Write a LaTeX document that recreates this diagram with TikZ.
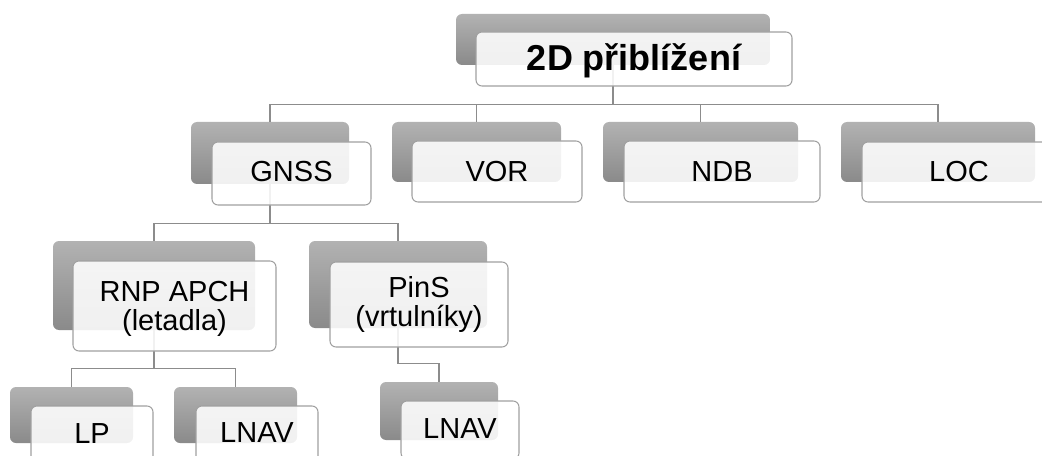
\documentclass[tikz,border=0pt]{standalone}
\usepackage{fontspec}
\setmainfont{Liberation Sans}
\definecolor{backtop}{RGB}{178,178,178}
\definecolor{backbot}{RGB}{138,138,138}
\definecolor{frontline}{RGB}{160,160,160}
\definecolor{connc}{RGB}{140,140,140}
\tikzset{
  backbox/.style={rounded corners=4.5pt, top color=backtop, bottom color=backbot, draw=none, inner sep=0pt},
  frontbox/.style={rounded corners=4.5pt, draw=frontline, line width=0.8pt, fill=white, fill opacity=0.88, inner sep=0pt},
  conn/.style={draw=connc, line width=1.1pt},
  lbl/.style={font=\fontsize{21.75}{21.75}\selectfont, align=center, inner sep=0pt},
  toplbl/.style={font=\fontsize{27}{27}\selectfont\bfseries, inner sep=0pt},
}
% name, back x1 y1 x2 y2 (px)
\newcommand\backpiece[5]{%
  \node[backbox, minimum width={(#4-#2)*0.75pt}, minimum height={(#5-#3)*0.75pt}] (b-#1) at ({(#2+#4)/2},{(#3+#5)/2}) {};}
\newcommand\frontpiece[5]{%
  \node[frontbox, minimum width={(#4-#2)*0.75pt}, minimum height={(#5-#3)*0.75pt}] (f-#1) at ({(#2+#4)/2},{(#3+#5)/2}) {};}
\begin{document}
\begin{tikzpicture}[x=0.75pt,y=-0.75pt]
\useasboundingbox (0,0) rectangle (1042,456);
\clip (0,0) rectangle (1042,456);
% back boxes
\backpiece{top}{456}{14}{770}{65}
\backpiece{gnss}{191}{122}{349}{184}
\backpiece{vor}{392}{122}{561}{182}
\backpiece{ndb}{603}{122}{798}{182}
\backpiece{loc}{841}{122}{1035}{182}
\backpiece{rnp}{53}{241}{255}{330}
\backpiece{pins}{309}{241}{487}{328}
\backpiece{lp}{10}{387}{133}{443}
\backpiece{lnava}{174}{387}{297}{443}
\backpiece{lnavb}{380}{382}{498}{440}
% connectors
\draw[conn] (b-top.south) -- ++(0,39) -| (b-gnss.north);
\draw[conn] (b-top.south) -- ++(0,39) -| (b-vor.north);
\draw[conn] (b-top.south) -- ++(0,39) -| (b-ndb.north);
\draw[conn] (b-top.south) -- ++(0,39) -| (b-loc.north);
\draw[conn] (b-gnss.south) -- ++(0,39) -| (b-rnp.north);
\draw[conn] (b-gnss.south) -- ++(0,39) -| (b-pins.north);
\draw[conn] (b-rnp.south) -- ++(0,38) -| (b-lp.north);
\draw[conn] (b-rnp.south) -- ++(0,38) -| (b-lnava.north);
\draw[conn] (b-pins.south) -- ++(0,35) -| (b-lnavb.north);
% front boxes
\frontpiece{top}{476}{32}{792}{86}
\frontpiece{gnss}{212}{142}{371}{205}
\frontpiece{vor}{412}{141}{582}{202}
\frontpiece{ndb}{624}{141}{820}{202}
\frontpiece{loc}{862}{142}{1056}{202}
\frontpiece{rnp}{73}{261}{276}{351}
\frontpiece{pins}{330}{262}{508}{347}
\frontpiece{lp}{31}{406}{153}{462}
\frontpiece{lnava}{196}{406}{318}{462}
\frontpiece{lnavb}{401}{401}{519}{459}
% labels
\node[toplbl, anchor=base] (t-top) at (634,71) {2D přiblížení};
\node[lbl, anchor=base] (t-gnss) at (291.5,181) {GNSS};
\node[lbl, anchor=base] (t-vor) at (497,181) {VOR};
\node[lbl, anchor=base] (t-ndb) at (722,181) {NDB};
\node[lbl, anchor=base] (t-loc) at (959,181) {LOC};
\node[lbl] (t-rnp) at (174.5,309) {RNP APCH\\(letadla)};
\node[lbl] (t-pins) at (419,304.5) {PinS\\(vrtulníky)};
\node[lbl, anchor=base] (t-lp) at (92,443) {LP};
\node[lbl, anchor=base] (t-lnava) at (257,442) {LNAV};
\node[lbl, anchor=base] (t-lnavb) at (460,438) {LNAV};
\end{tikzpicture}
\end{document}
